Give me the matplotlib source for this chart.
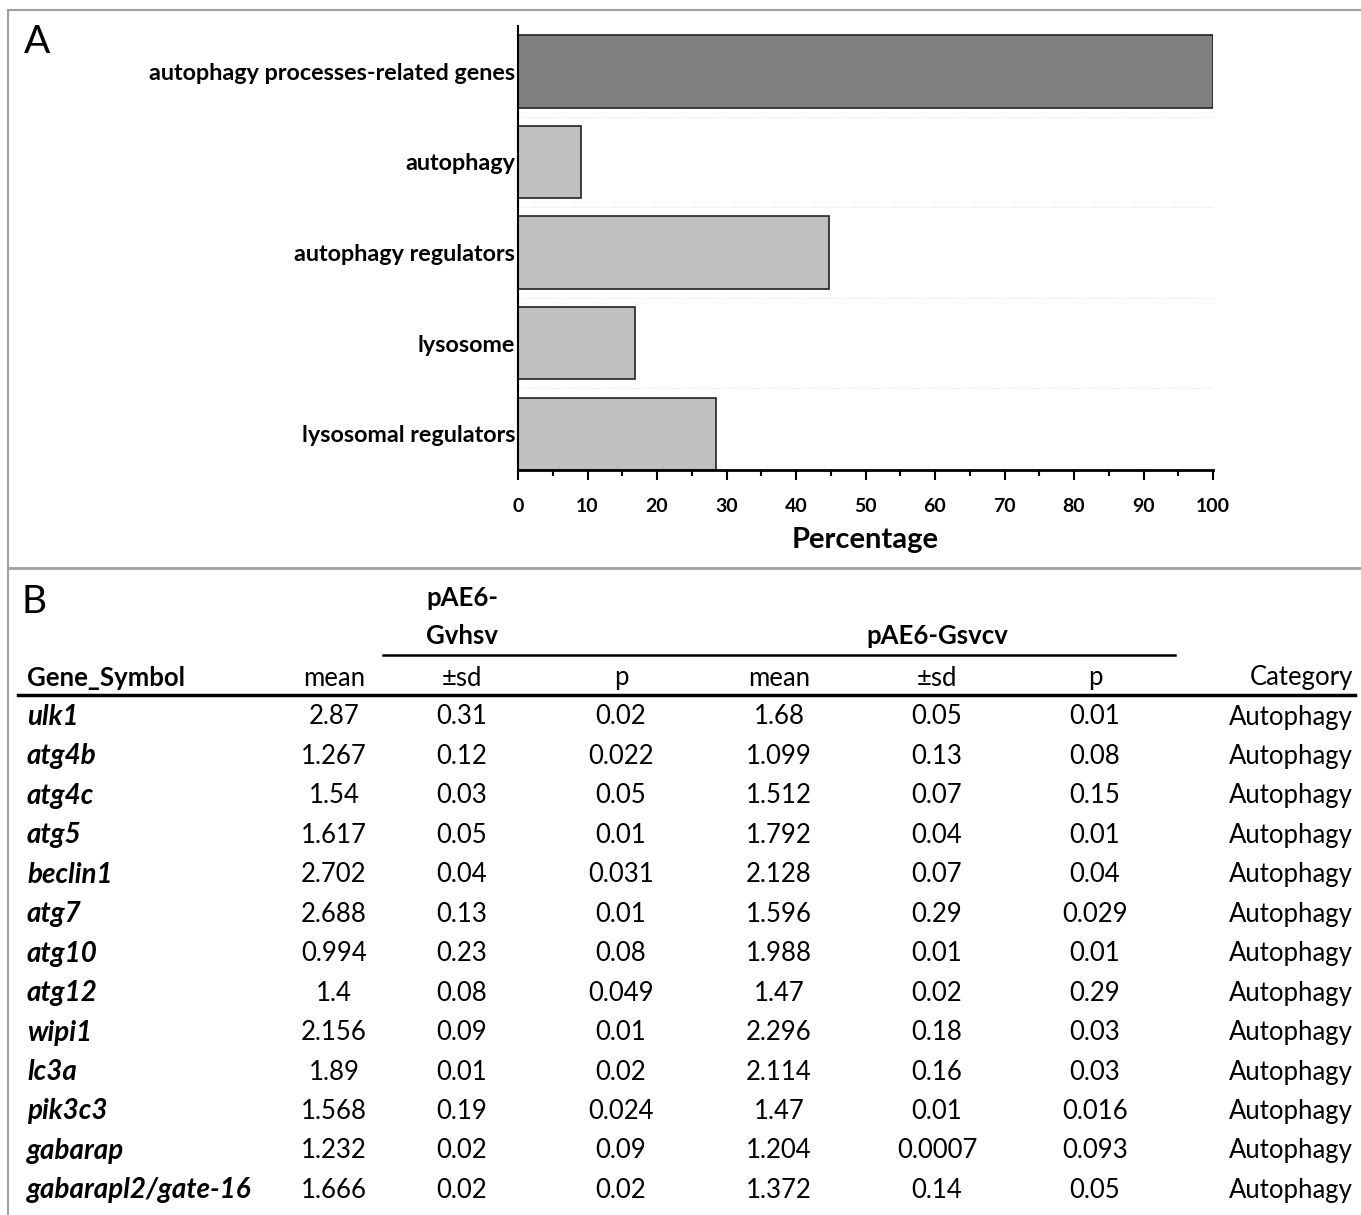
import matplotlib.pyplot as plt
from matplotlib.lines import Line2D

plt.rcParams['font.family'] = ['Lato', 'DejaVu Sans']

# panel A data
categories = ["autophagy processes-related genes", "autophagy", "autophagy regulators",
              "lysosome", "lysosomal regulators"]
percent = [100, 9.1, 44.7, 16.8, 28.5]
bar_colors = ["#808080", "#c0c0c0", "#c0c0c0", "#c0c0c0", "#c0c0c0"]

# panel B data
genes = ["ulk1", "atg4b", "atg4c", "atg5", "beclin1", "atg7", "atg10", "atg12",
         "wipi1", "lc3a", "pik3c3", "gabarap", "gabarapl2/gate-16"]
gv_mean = ["2.87", "1.267", "1.54", "1.617", "2.702", "2.688", "0.994", "1.4",
           "2.156", "1.89", "1.568", "1.232", "1.666"]
gv_sd = ["0.31", "0.12", "0.03", "0.05", "0.04", "0.13", "0.23", "0.08",
         "0.09", "0.01", "0.19", "0.02", "0.02"]
gv_p = ["0.02", "0.022", "0.05", "0.01", "0.031", "0.01", "0.08", "0.049",
        "0.01", "0.02", "0.024", "0.09", "0.02"]
gs_mean = ["1.68", "1.099", "1.512", "1.792", "2.128", "1.596", "1.988", "1.47",
           "2.296", "2.114", "1.47", "1.204", "1.372"]
gs_sd = ["0.05", "0.13", "0.07", "0.04", "0.07", "0.29", "0.01", "0.02",
         "0.18", "0.16", "0.01", "0.0007", "0.14"]
gs_p = ["0.01", "0.08", "0.15", "0.01", "0.04", "0.029", "0.01", "0.29",
        "0.03", "0.03", "0.016", "0.093", "0.05"]
category = ["Autophagy"] * len(genes)

W, H = 1361, 1215
fig = plt.figure(figsize=(W / 100, H / 100), dpi=100)

# ---- panel A: horizontal bars
ax = fig.add_axes([518 / W, 1 - 470 / H, (1213 - 518) / W, (470 - 26) / H])
ypos = list(range(len(categories)))
ax.barh(ypos, percent, height=0.8, color=bar_colors, edgecolor="#222222", linewidth=1.2)
for y in [0.5, 1.5, 2.5, 3.5]:
    ax.axhline(y, color="#dddddd", lw=0.8, ls=(0, (1, 2)), zorder=0)
ax.set_xlim(0, 100)
ax.set_ylim(4.4, -0.5)
ax.set_yticks(ypos)
ax.set_yticklabels(categories, fontsize=16.8, fontweight="bold")
ax.tick_params(axis="y", length=0, pad=2)
ax.set_xticks(range(0, 101, 10))
ax.set_xticks(range(5, 100, 10), minor=True)
ax.tick_params(axis="x", which="major", length=7, width=1.5, labelsize=14, pad=13)
ax.tick_params(axis="x", which="minor", length=4, width=1.5)
for lbl in ax.get_xticklabels():
    lbl.set_fontweight("bold")
ax.set_xlabel("Percentage", fontsize=21, fontweight="bold", labelpad=9)
ax.spines["top"].set_visible(False)
ax.spines["right"].set_visible(False)
ax.spines["left"].set_linewidth(1.5)
ax.spines["bottom"].set_linewidth(2)

# ---- overlay axes in pixel coordinates for borders, labels and table
ov = fig.add_axes([0, 0, 1, 1], zorder=-1)
ov.set_xlim(0, W)
ov.set_ylim(H, 0)
ov.axis("off")

border = "#a0a0a0"
ov.add_line(Line2D([8, W], [10, 10], color=border, lw=1.5))
ov.add_line(Line2D([8, 8], [10, H], color=border, lw=1.5))
ov.add_line(Line2D([8, W], [568, 568], color=border, lw=2))

ov.text(24, 42, "A", fontsize=28, va="center", ha="left")
ov.text(22, 602, "B", fontsize=28, va="center", ha="left")

fs = 18.5
# group headers
ov.text(462, 598, "pAE6-", fontsize=fs, fontweight="bold", ha="center", va="center")
ov.text(462, 636, "Gvhsv", fontsize=fs, fontweight="bold", ha="center", va="center")
ov.text(937, 636, "pAE6-Gsvcv", fontsize=fs, fontweight="bold", ha="center", va="center")
ov.add_line(Line2D([383, 1175], [655, 655], color="black", lw=1.8))

# column headers
col_x = [334, 462, 621, 779, 937, 1095]
col_names = ["mean", "\u00b1sd", "p", "mean", "\u00b1sd", "p"]
hy = 678
ov.text(27, hy, "Gene_Symbol", fontsize=fs, fontweight="bold", ha="left", va="center")
for x, name in zip(col_x, col_names):
    ov.text(x, hy, name, fontsize=fs, ha="center", va="center")
ov.text(1353, hy, "Category", fontsize=fs, ha="right", va="center")
ov.add_line(Line2D([18, 1355], [695, 695], color="black", lw=2.5))

# rows
y0, dy = 717, 39.45
columns = [gv_mean, gv_sd, gv_p, gs_mean, gs_sd, gs_p]
for i, g in enumerate(genes):
    y = y0 + i * dy
    ov.text(27, y, g, fontsize=20, fontweight="bold", fontstyle="italic", ha="left", va="center")
    for x, col in zip(col_x, columns):
        ov.text(x, y, col[i], fontsize=fs, ha="center", va="center")
    ov.text(1353, y, category[i], fontsize=fs, ha="right", va="center")

fig.savefig("out.png", dpi=100)
